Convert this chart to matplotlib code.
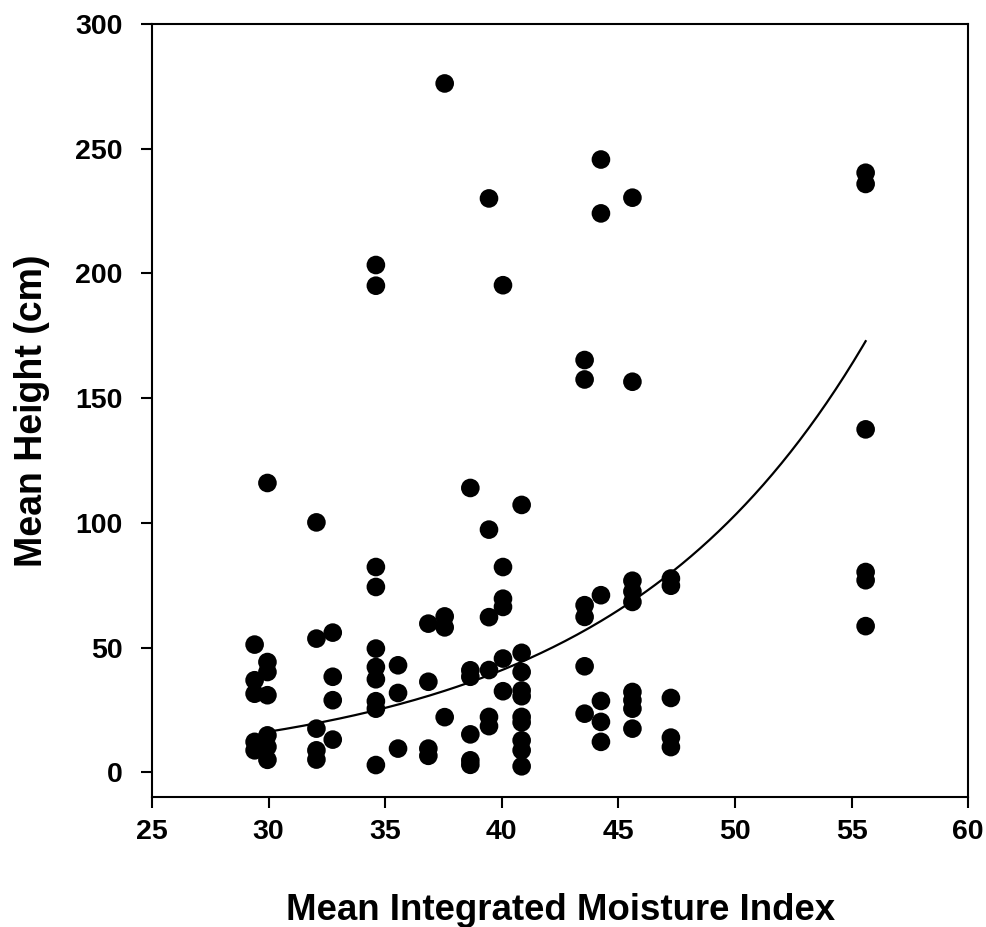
import numpy as np
import matplotlib.pyplot as plt

plt.rcParams['font.family'] = ['Liberation Sans', 'DejaVu Sans']
plt.rcParams['font.weight'] = 'bold'

# Valores: índice de humedad (x) y altura media (y)
x_29_4 = [29.4] * 5
y_29_4 = [51.2, 36.9, 31.5, 12.2, 8.8]
x_29_9 = [29.95] * 7
y_29_9 = [116, 44.2, 40.2, 30.9, 14.8, 10.2, 5.0]
x_32_0 = [32.05] * 5
y_32_0 = [100.2, 53.6, 17.5, 8.8, 5.1]
x_32_7 = [32.75] * 4
y_32_7 = [56, 38.3, 28.9, 13.1]
x_34_6 = [34.6] * 10
y_34_6 = [203.4, 195.1, 82.3, 74.3, 49.6, 42.2, 37.3, 28.5, 25.5, 2.9]
x_35_5 = [35.55] * 3
y_35_5 = [42.9, 31.8, 9.5]
x_36_8 = [36.85] * 4
y_36_8 = [59.6, 36.3, 9.5, 6.6]
x_37_5 = [37.55] * 4
y_37_5 = [276.2, 62.5, 58.1, 22.1]
x_38_6 = [38.65] * 6
y_38_6 = [114, 40.9, 38.3, 15.2, 4.8, 3.0]
x_39_4 = [39.45] * 6
y_39_4 = [230.1, 97.3, 62.2, 41.0, 22.2, 18.5]
x_40_0 = [40.05] * 6
y_40_0 = [195.3, 82.3, 69.6, 66.3, 45.6, 32.5]
x_40_8 = [40.85] * 10
y_40_8 = [107.2, 47.9, 40.2, 32.8, 30.5, 22.2, 20.0, 12.8, 8.8, 2.4]
x_43_5 = [43.55] * 6
y_43_5 = [165.3, 157.5, 67.0, 62.3, 42.5, 23.5]
x_44_2 = [44.25] * 6
y_44_2 = [245.7, 224.1, 71.0, 28.6, 20.2, 12.2]
x_45_6 = [45.6] * 9
y_45_6 = [230.4, 156.6, 76.8, 72.5, 68.3, 32.2, 28.9, 25.5, 17.5]
x_47_2 = [47.25] * 5
y_47_2 = [77.7, 74.8, 29.8, 13.9, 10.1]
x_55_5 = [55.6] * 6
y_55_5 = [240.4, 235.9, 137.5, 80.3, 77.0, 58.6]

mim = np.array(x_29_4 + x_29_9 + x_32_0 + x_32_7 + x_34_6 + x_35_5 + x_36_8 + x_37_5
               + x_38_6 + x_39_4 + x_40_0 + x_40_8 + x_43_5 + x_44_2 + x_45_6 + x_47_2 + x_55_5)
altura = np.array(y_29_4 + y_29_9 + y_32_0 + y_32_7 + y_34_6 + y_35_5 + y_36_8 + y_37_5
                  + y_38_6 + y_39_4 + y_40_0 + y_40_8 + y_43_5 + y_44_2 + y_45_6 + y_47_2 + y_55_5)

# Curva exponencial ajustada (parámetros)
ajuste_a = 16.2
ajuste_b = 0.0923
ajuste_x0 = 29.95
ajuste_x1 = 55.6

fig = plt.figure(figsize=(9.87, 9.27), dpi=100)
ax = fig.add_axes([0.154, 0.140, 0.827, 0.834])

ax.scatter(mim, altura, s=180, color='black', edgecolors='none', zorder=3)

xs = np.linspace(ajuste_x0, ajuste_x1, 200)
ax.plot(xs, ajuste_a * np.exp(ajuste_b * (xs - ajuste_x0)), color='black', lw=1.6, zorder=2)

ax.set_xlim(25, 60)
ax.set_ylim(-10, 300)
ax.set_xticks(np.arange(25, 61, 5))
ax.set_yticks(np.arange(0, 301, 50))

for s in ax.spines.values():
    s.set_linewidth(1.5)
ax.tick_params(direction='out', length=8, width=1.5, labelsize=20.5)
ax.tick_params(axis='y', pad=13)
ax.tick_params(axis='x', pad=8)
ax.tick_params(top=False, right=False)

ax.set_xlabel('Mean Integrated Moisture Index', fontsize=26.4, fontweight='bold', labelpad=34)
ax.set_ylabel('Mean Height (cm)', fontsize=27, fontweight='bold', labelpad=18)

fig.savefig('out.png', dpi=100)
